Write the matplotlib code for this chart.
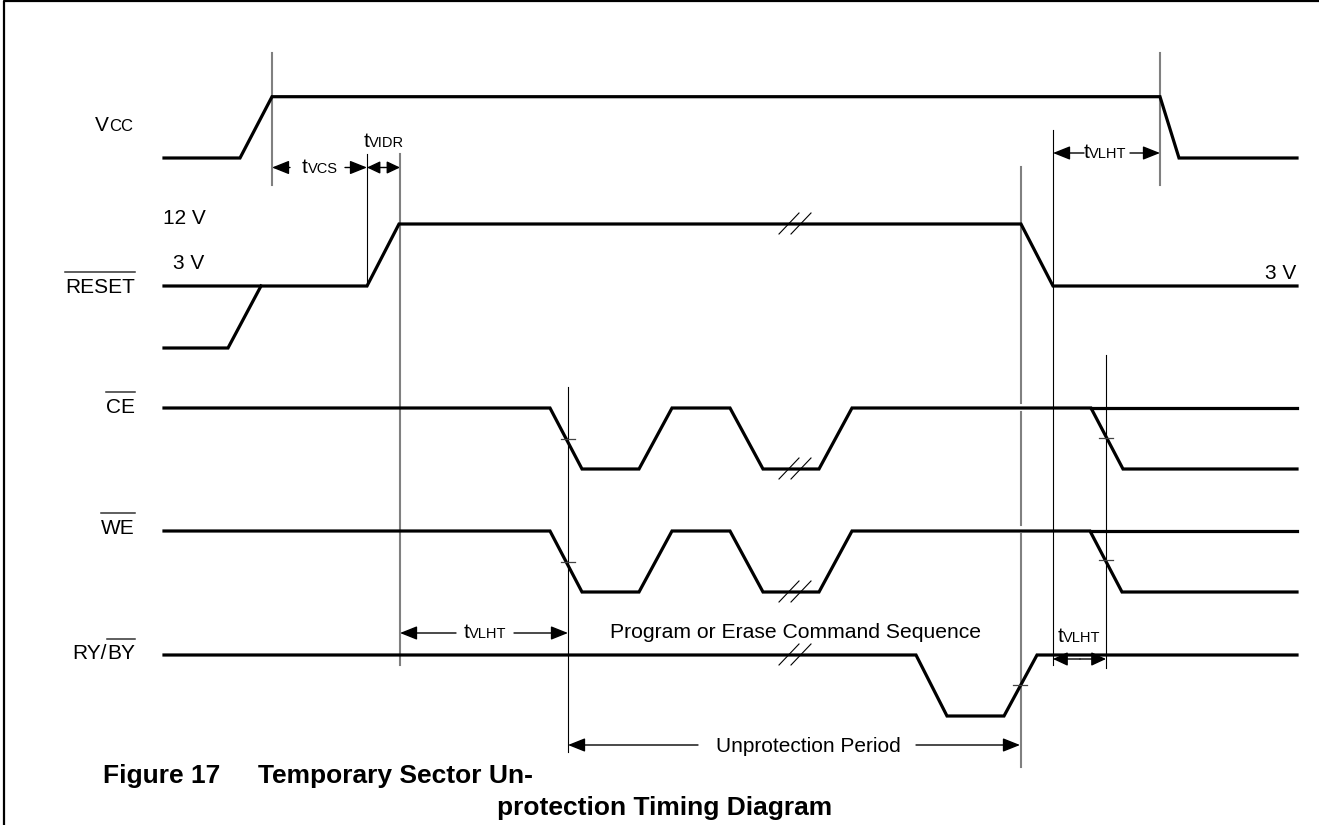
import matplotlib
matplotlib.use("Agg")
import matplotlib.pyplot as plt

# ---- waveform data: time points (px along the time axis) and levels ----
vcc_t = [164, 240, 272, 1160, 1179, 1297]
vcc_lv = [0, 0, 1, 1, 0, 0]

reset_t = [164, 367, 399, 1021, 1053, 1297]
reset_lv = [3, 3, 12, 12, 3, 3]
reset_up_t = [164, 228, 261]
reset_up_lv = [0, 0, 3]

ce_t = [164, 550, 582, 639, 672, 730, 763, 819, 852, 1091, 1123, 1297]
ce_lv = [1, 1, 0, 0, 1, 1, 0, 0, 1, 1, 0, 0]
we_t = [164, 550, 582, 639, 672, 730, 763, 819, 852, 1090, 1122, 1297]
we_lv = [1, 1, 0, 0, 1, 1, 0, 0, 1, 1, 0, 0]
hold_t = [1091, 1297]
hold_lv = [1, 1]

ry_t = [164, 916, 947, 1004, 1037, 1297]
ry_lv = [1, 1, 0, 0, 1, 1]

# reference edges: time, top, bottom, colour
markers = [
    (272, 53, 185, "gray"), (1160, 53, 185, "gray"),
    (367, 154, 286, "black"), (400, 154, 665, "gray"),
    (568, 387, 752, "black"), (1053, 130, 665, "black"),
    (1106, 355, 668, "black"),
    (1021, 167, 403, "gray"), (1021, 412, 525, "gray"), (1021, 534, 767, "gray"),
]
cross_ticks = [(568, 439), (568, 562), (1106, 438), (1106, 560), (1020, 685)]

# row levels (screen y for each logic level)
rows = {
    "vcc": {0: 158, 1: 96.7},
    "reset": {0: 348, 3: 286, 12: 224},
    "ce": {0: 469, 1: 408},
    "we": {0: 592, 1: 531},
    "ry": {0: 716, 1: 655},
}
breaks = [(795, rows["reset"][12]), (795, rows["ce"][0]),
          (795, rows["we"][0]), (795, rows["ry"][1])]

FONT = "Liberation Sans"
GRAY = "#808080"

fig = plt.figure(figsize=(13.19, 8.25), dpi=100)
ax = fig.add_axes([0, 0, 1, 1])
ax.set_xlim(0, 1319)
ax.set_ylim(825, 0)
ax.axis("off")
fig.canvas.draw()
renderer = fig.canvas.get_renderer()

# frame
ax.plot([4, 4, 1319], [825, 1, 1], color="black", lw=1.6, solid_capstyle="butt")


def wave(t, lv, row):
    ax.plot(t, [rows[row][v] for v in lv], color="black", lw=2.3,
            solid_joinstyle="miter", zorder=3)


wave(vcc_t, vcc_lv, "vcc")
wave(reset_t, reset_lv, "reset")
wave(reset_up_t, reset_up_lv, "reset")
wave(ce_t, ce_lv, "ce")
wave(hold_t, hold_lv, "ce")
wave(we_t, we_lv, "we")
wave(hold_t, hold_lv, "we")
wave(ry_t, ry_lv, "ry")

for x, top, bot, c in markers:
    if c == "gray":
        ax.plot([x, x], [top, bot], color=GRAY, lw=1.5, zorder=2)
    else:
        ax.plot([x, x], [top, bot], color="black", lw=0.8, zorder=2)

for x, y in cross_ticks:
    ax.plot([x - 7, x + 7], [y, y], color="#444444", lw=0.9, zorder=4)

for x, y in breaks:
    for dx in (-10, 2):
        ax.plot([x + dx - 6, x + dx + 14], [y + 10, y - 11], color="black",
                lw=0.8, zorder=4)


def run(parts, x, y, ha="left", ov_y=None):
    """Draw text pieces side by side on one baseline; optional overline."""
    items = []
    for s, size, bold, over in parts:
        t = ax.text(0, y, s, fontsize=size, family=FONT, va="baseline",
                    ha="left", fontweight="bold" if bold else "normal")
        w = t.get_window_extent(renderer).width
        items.append((t, w, over))
    total = sum(w for _, w, _ in items)
    cur = {"left": x, "right": x - total, "center": x - total / 2}[ha]
    for t, w, over in items:
        t.set_x(cur)
        if over:
            ax.plot([cur, cur + w], [ov_y, ov_y], color="#333333", lw=1.1)
        cur += w
    return total


def dim(a, b, y, gap_a, gap_b, hl=1.05, hw=0.42):
    style = f"-|>,head_length={hl},head_width={hw}"
    kw = dict(arrowstyle=style, color="black", lw=1.0, shrinkA=0, shrinkB=0,
              mutation_scale=10)
    ax.annotate("", xy=(a, y), xytext=(gap_a, y), arrowprops=kw)
    ax.annotate("", xy=(b, y), xytext=(gap_b, y), arrowprops=kw)


L = 15
S = 10.5

# signal names
run([("V", L, False, False), ("CC", 12, False, False)], 133, 131, "right")
run([("RESET", L, False, True)], 135, 293, "right", ov_y=272)
run([("CE", L, False, True)], 135, 413, "right", ov_y=392)
run([("WE", L, False, True)], 135, 534, "right", ov_y=513)
run([("RY/", L, False, False), ("BY", L, False, True)], 135, 659, "right", ov_y=639)
run([("12 V", L, False, False)], 163, 224)
run([("3 V", L, False, False)], 173, 269)
run([("3 V", L, False, False)], 1296, 279, "right")

# timing dimensions
dim(272, 367, 167.5, 290, 345)
run([("t", L, False, False), ("VCS", S, False, False)], 320, 173, "center")
dim(367, 400, 167.5, 384, 384, hl=0.8, hw=0.38)
run([("t", L, False, False), ("VIDR", S, False, False)], 384, 147, "center")
dim(1053, 1160, 153, 1084, 1130)
run([("t", L, False, False), ("VLHT", S, False, False)], 1105, 158, "center")
dim(400, 568, 633, 456, 514)
run([("t", L, False, False), ("VLHT", S, False, False)], 485, 638, "center")
dim(1053, 1106, 659, 1080, 1080, hl=0.9)
run([("t", L, False, False), ("VLHT", S, False, False)], 1079, 642, "center")
dim(568, 1020, 745, 698, 916)
run([("Unprotection Period", L, False, False)], 808, 752, "center")
run([("Program or Erase Command Sequence", 15.2, False, False)], 796, 638, "center")

# caption
run([("Figure 17", 19, True, False)], 103, 783)
run([("Temporary Sector Un-", 19, True, False)], 258, 783)
run([("protection Timing Diagram", 19, True, False)], 497, 815)

fig.savefig("out.png", dpi=100)
